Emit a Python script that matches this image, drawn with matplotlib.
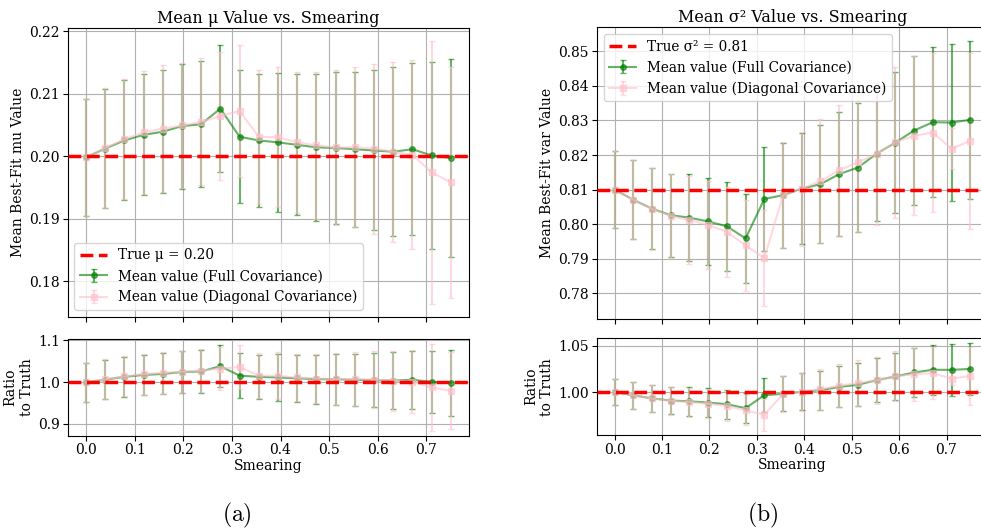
import matplotlib
matplotlib.use("Agg")
import matplotlib.pyplot as plt
import numpy as np

plt.rcParams['font.family'] = 'DejaVu Serif'
plt.rcParams['mathtext.fontset'] = 'cm'
plt.rcParams['xtick.major.pad'] = 2
plt.rcParams['ytick.major.pad'] = 2

smearing = [0.0, 0.0395, 0.0789, 0.1184, 0.1579, 0.1974, 0.2368, 0.2763, 0.3158, 0.3553,
            0.3947, 0.4342, 0.4737, 0.5132, 0.5526, 0.5921, 0.6316, 0.6711, 0.7105, 0.75]

mu_true = 0.20
mu_full = [0.1998, 0.2012, 0.2025, 0.2034, 0.2039, 0.2048, 0.2051, 0.2076, 0.2031, 0.2025,
           0.2022, 0.2018, 0.2014, 0.2013, 0.2011, 0.2009, 0.2007, 0.2011, 0.2001, 0.1997]
mu_full_err = [0.0094, 0.0095, 0.0096, 0.0097, 0.0098, 0.0100, 0.0101, 0.0101, 0.0106, 0.0107,
               0.0111, 0.0113, 0.0118, 0.0121, 0.0124, 0.0128, 0.0135, 0.0138, 0.0149, 0.0158]
mu_diag = [0.1998, 0.2013, 0.2027, 0.2038, 0.2044, 0.2049, 0.2055, 0.2064, 0.2072, 0.2031,
           0.2030, 0.2022, 0.2017, 0.2014, 0.2014, 0.2012, 0.2007, 0.2002, 0.1974, 0.1958]
mu_diag_err = [0.0094, 0.0096, 0.0096, 0.0098, 0.0101, 0.0100, 0.0102, 0.0103, 0.0105, 0.0107,
               0.0112, 0.0113, 0.0118, 0.0124, 0.0128, 0.0136, 0.0144, 0.0151, 0.0210, 0.0185]

var_true = 0.81
var_full = [0.8100, 0.8071, 0.8045, 0.8026, 0.8019, 0.8008, 0.7994, 0.7959, 0.8073, 0.8084,
            0.8103, 0.8116, 0.8145, 0.8164, 0.8204, 0.8236, 0.8271, 0.8295, 0.8294, 0.8302]
var_full_err = [0.0112, 0.0115, 0.0118, 0.0120, 0.0125, 0.0126, 0.0128, 0.0129, 0.0149, 0.0152,
                0.0160, 0.0170, 0.0179, 0.0186, 0.0194, 0.0203, 0.0214, 0.0217, 0.0227, 0.0229]
var_diag = [0.8100, 0.8071, 0.8044, 0.8024, 0.8012, 0.7998, 0.7978, 0.7939, 0.7902, 0.8084,
            0.8103, 0.8125, 0.8156, 0.8179, 0.8204, 0.8237, 0.8256, 0.8265, 0.8218, 0.8241]
var_diag_err = [0.0112, 0.0115, 0.0119, 0.0121, 0.0127, 0.0128, 0.0131, 0.0131, 0.0139, 0.0154,
                0.0165, 0.0180, 0.0190, 0.0200, 0.0205, 0.0219, 0.0230, 0.0230, 0.0059, 0.0255]


def panel(ax_top, ax_bot, full, full_err, diag, diag_err, truth, true_label, ylabel, title, loc):
    full, full_err = np.array(full), np.array(full_err)
    diag, diag_err = np.array(diag), np.array(diag_err)

    ax_top.errorbar(smearing, full, yerr=full_err, fmt='o-', color='green', alpha=0.6,
                    markersize=4, capsize=2, label='Mean value (Full Covariance)')
    ax_top.errorbar(smearing, diag, yerr=diag_err, fmt='s-', color='pink', alpha=0.6,
                    markersize=4, capsize=2, label='Mean value (Diagonal Covariance)')
    ax_top.axhline(truth, color='red', linestyle='--', linewidth=2.5, zorder=3, label=true_label)
    ax_top.set_ylabel(ylabel, fontsize=10, labelpad=3)
    ax_top.set_title(title, fontsize=11.5, pad=3.5)
    ax_top.grid(True)
    ax_top.legend(loc=loc, fontsize=9.8)
    ax_top.tick_params(labelbottom=False, labelsize=10)

    ax_bot.errorbar(smearing, full / truth, yerr=full_err / truth, fmt='o-', color='green',
                    alpha=0.6, markersize=4, capsize=2)
    ax_bot.errorbar(smearing, diag / truth, yerr=diag_err / truth, fmt='s-', color='pink',
                    alpha=0.6, markersize=4, capsize=2)
    ax_bot.axhline(1.0, color='red', linestyle='--', linewidth=2.5, zorder=3)
    ax_bot.set_xlabel('Smearing', fontsize=10, labelpad=1)
    ax_bot.set_ylabel('Ratio\nto Truth', fontsize=10, labelpad=3)
    ax_bot.grid(True)
    ax_bot.tick_params(labelsize=10)


fig = plt.figure(figsize=(9.81, 5.28), dpi=100)

ax1 = fig.add_axes([0.0690, 0.4002, 0.4091, 0.5468])
ax2 = fig.add_axes([0.0690, 0.1748, 0.4091, 0.1826], sharex=ax1)
ax3 = fig.add_axes([0.6083, 0.3949, 0.3989, 0.5534])
ax4 = fig.add_axes([0.6083, 0.1761, 0.3989, 0.1831], sharex=ax3)

panel(ax1, ax2, mu_full, mu_full_err, mu_diag, mu_diag_err, mu_true,
      'True μ = 0.20', 'Mean Best-Fit mu Value', 'Mean μ Value vs. Smearing', 'lower left')
panel(ax3, ax4, var_full, var_full_err, var_diag, var_diag_err, var_true,
      'True σ² = 0.81', 'Mean Best-Fit var Value', 'Mean σ² Value vs. Smearing', 'upper left')

fig.text(0.2413, 0.0246, r'$\mathrm{(a)}$', fontsize=17, ha='center', va='center')
fig.text(0.7778, 0.0246, r'$\mathrm{(b)}$', fontsize=17, ha='center', va='center')

fig.savefig('out.png', dpi=100)
